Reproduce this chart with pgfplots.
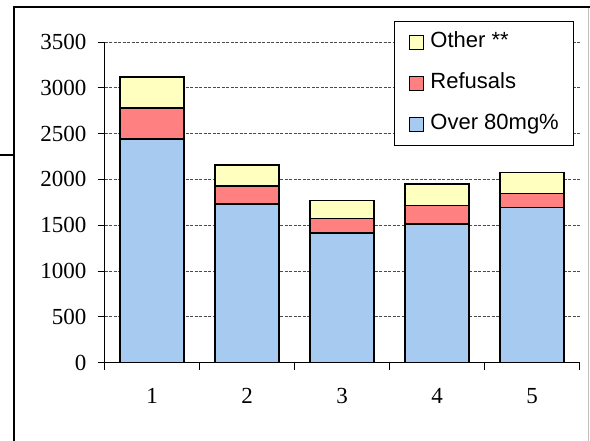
\documentclass[border=0pt]{standalone}
\usepackage{fontspec}
\setmainfont{Liberation Serif}
\newfontfamily\legendfont{Liberation Sans}
\usepackage{pgfplots}
\pgfplotsset{compat=1.18}
\definecolor{cblue}{RGB}{166,202,240}
\definecolor{cred}{RGB}{255,128,128}
\definecolor{cyellow}{RGB}{255,255,192}
\begin{document}
\begin{tikzpicture}[x=1pt,y=1pt]
\useasboundingbox (0,0) rectangle (590,441);
\fill[white] (0,0) rectangle (590,441);
\draw[black!25, line width=1pt] (588,0) -- (588,434);
\draw[black, line width=1.5pt] (14,0) -- (14,434) -- (590,434);
\draw[black, line width=1.5pt] (0,286) -- (14,286);
\begin{axis}[
  at={(104.6pt,78.3pt)}, anchor=south west,
  scale only axis, width=475pt, height=320.7pt,
  xmin=0.5, xmax=5.5, ymin=0, ymax=3500,
  axis lines*=left,
  axis line style={line width=0.9pt, black},
  ybar stacked, bar width=64pt,
  xtick={1,2,3,4,5},
  minor xtick={0.5,1.5,2.5,3.5,4.5,5.5},
  major x tick style={draw=none},
  ytick={0,500,...,3500},
  tick align=outside, major tick length=7pt, minor tick length=7pt,
  tick style={black, line width=0.9pt},
  ymajorgrids,
  major grid style={dash pattern=on 3pt off 1.5pt, black!70, line width=0.8pt},
  /pgf/number format/assume math mode=true,
  /pgf/number format/1000 sep={},
  ticklabel style={font=\fontsize{23}{27}\selectfont},
  yticklabel style={inner sep=0pt, anchor=east, xshift=-11pt},
  xticklabel style={inner sep=0pt, anchor=north, yshift=-18.6pt},
  reverse legend,
  legend cell align=left,
  legend style={at={(rel axis cs:0.9889,1.0655)}, anchor=north east,
    draw=black, line width=1pt, fill=white,
    font=\legendfont\fontsize{22}{26}\selectfont,
    inner xsep=15pt, inner ysep=11pt, row sep=21pt,
    nodes={inner sep=0pt, text height=15pt, text depth=5pt},
    /tikz/every odd column/.append style={column sep=6pt}},
  legend image code/.code={\draw[#1, draw=black, line width=1pt] (0pt,-7pt) rectangle (14pt,7pt);},
]
\addplot[fill=cblue, draw=black, line width=1.5pt] coordinates {(1,2444) (2,1732) (3,1415) (4,1514) (5,1692)};
\addplot[fill=cred, draw=black, line width=1.5pt] coordinates {(1,334) (2,196) (3,161) (4,204) (5,152)};
\addplot[fill=cyellow, draw=black, line width=1.5pt] coordinates {(1,340) (2,230) (3,196) (4,232) (5,230)};
\legend{Over 80mg\%, Refusals, Other **}
\end{axis}
\end{tikzpicture}
\end{document}
